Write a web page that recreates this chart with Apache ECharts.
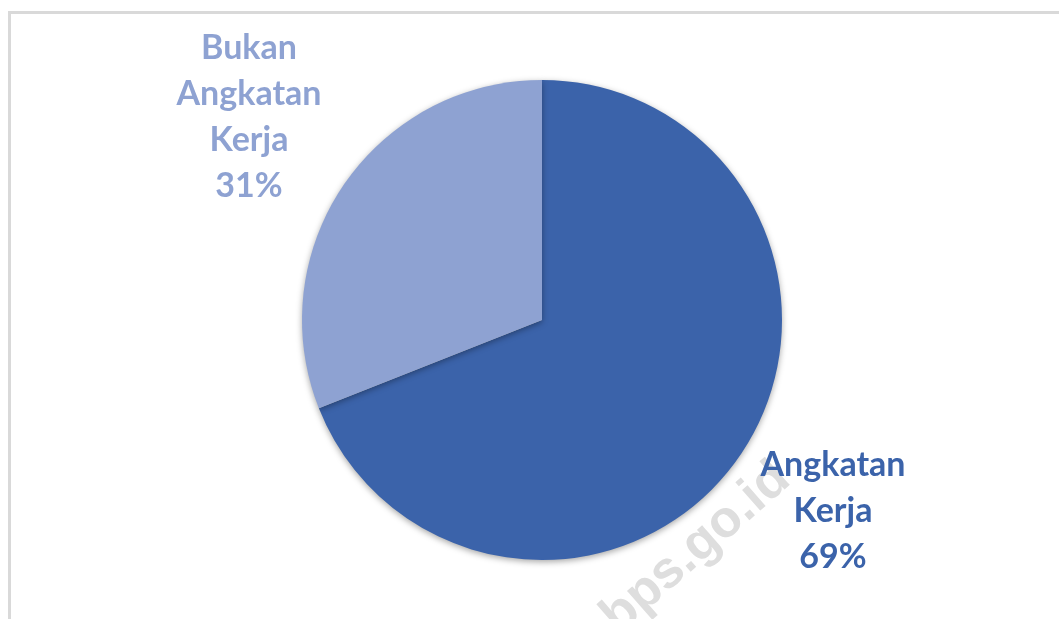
<!DOCTYPE html>
<html>
<head>
<meta charset="utf-8">
<script src="https://cdn.jsdelivr.net/npm/echarts@6/dist/echarts.min.js"></script>
<style>
  html, body { margin: 0; padding: 0; background: #fff; }
  #chart { width: 1059px; height: 619px; }
</style>
</head>
<body>
<div id="chart"></div>
<script>
var categories = ['Angkatan\nKerja', 'Bukan\nAngkatan\nKerja'];
var values = [69, 31];
var sliceColors = ['#3B63AA', '#8EA2D2'];

var chart = echarts.init(document.getElementById('chart'));

var pieData = categories.map(function (name, i) {
  return {
    name: name,
    value: values[i],
    itemStyle: { color: sliceColors[i] },
    label: { color: sliceColors[i] }
  };
});

// label centres
var labelPos = [[833, 511], [249, 117]];

chart.setOption({
  backgroundColor: '#fff',
  animation: false,
  graphic: [
    {
      type: 'rect',
      z: -10,
      shape: { x: 9.5, y: 12.5, width: 1200, height: 800 },
      style: { fill: 'none', stroke: '#d9d9d9', lineWidth: 3 }
    },
    {
      type: 'text',
      z: -10,
      x: 696,
      y: 548,
      rotation: 0.72,
      style: {
        text: 'bps.go.id',
        fill: '#dedede',
        font: 'bold 52px "Liberation Sans", Arial, sans-serif',
        align: 'center',
        verticalAlign: 'middle'
      }
    }
  ],
  series: [
    {
      type: 'pie',
      z: 2,
      center: [542, 320],
      radius: 240,
      startAngle: 90,
      clockwise: true,
      data: pieData,
      itemStyle: {
        shadowBlur: 6,
        shadowColor: 'rgba(0,0,0,0.35)',
        shadowOffsetY: 2
      },
      label: {
        show: true,
        position: 'outside',
        formatter: '{b}\n{d}%',
        fontFamily: 'Lato',
        fontWeight: 'bold',
        fontSize: 34,
        lineHeight: 46,
        align: 'center'
      },
      labelLine: { show: false },
      labelLayout: function (params) {
        var p = labelPos[params.dataIndex];
        return {
          x: p[0],
          y: p[1],
          align: 'center',
          verticalAlign: 'middle'
        };
      },
      emphasis: { disabled: true }
    }
  ]
});
</script>
</body>
</html>
